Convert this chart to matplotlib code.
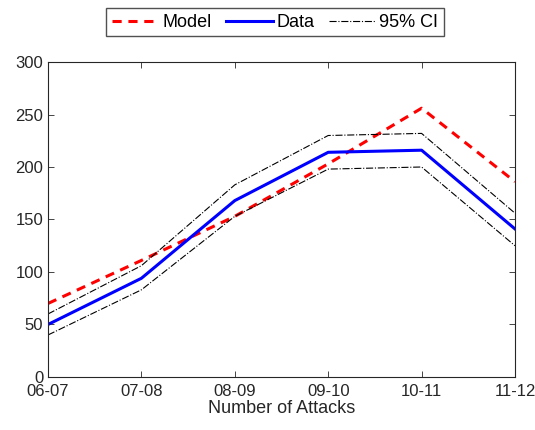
import matplotlib.pyplot as plt

plt.rcParams['font.family'] = ['Liberation Sans', 'DejaVu Sans']

seasons = ['06-07', '07-08', '08-09', '09-10', '10-11', '11-12']
model = [70, 111, 153, 203, 256, 186]
data = [50, 94, 168, 214, 216, 141]
ci_upper = [60, 106, 183, 230, 232, 156]
ci_lower = [40, 83, 153, 198, 200, 125]

fig = plt.figure(figsize=(5.35, 4.3), dpi=100)
ax = fig.add_axes([0.0897, 0.1233, 0.8729, 0.7325])

x = range(len(seasons))
ax.plot(x, model, color='red', linestyle='--', linewidth=2.2, dashes=(3, 2.2), label='Model')
ax.plot(x, data, color='blue', linestyle='-', linewidth=2.2, label='Data')
ax.plot(x, ci_upper, color='black', linestyle='-.', linewidth=0.8, label='95% CI')
ax.plot(x, ci_lower, color='black', linestyle='-.', linewidth=0.8)

ax.set_xlim(0, len(seasons) - 1)
ax.set_ylim(0, 300)
ax.set_xticks(list(x))
ax.set_xticklabels(seasons)
ax.set_yticks(range(0, 301, 50))
ax.tick_params(direction='in', top=True, right=True, labelsize=12,
               colors='#262626', length=4, width=0.6)
ax.tick_params(axis='x', pad=5)
for s in ax.spines.values():
    s.set_color('#262626')
    s.set_linewidth(0.8)
ax.set_xlabel('Number of Attacks', fontsize=13, color='#262626', labelpad=1)

fig.legend(loc='center', bbox_to_anchor=(0.514, 0.948), ncol=3, fontsize=13,
           frameon=True, fancybox=False, edgecolor='#262626', handlelength=2.6,
           handletextpad=0.2, columnspacing=0.8, borderpad=0.3)

fig.savefig('out.png', dpi=100)
